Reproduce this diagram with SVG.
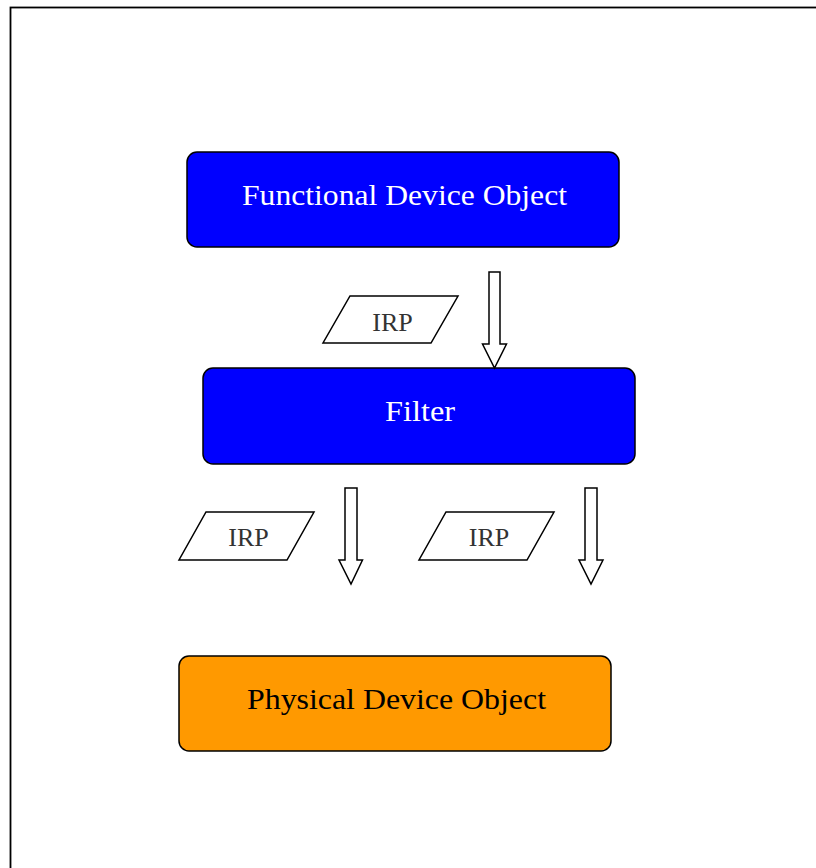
<svg xmlns="http://www.w3.org/2000/svg" width="816" height="868" viewBox="0 0 816 868">
<style>
.box{stroke:#000;stroke-width:1.5}
.lbl{font-family:"Liberation Serif","DejaVu Serif",serif;font-size:29px;text-anchor:middle}
.irp{font-family:"Liberation Serif","DejaVu Serif",serif;font-size:26px;fill:#333;text-anchor:middle}
.para{fill:#fff;stroke:#000;stroke-width:1.5}
.arr{fill:#fff;stroke:#000;stroke-width:1.5;stroke-linejoin:miter}
</style>
<rect width="816" height="868" fill="#fff"/>
<rect x="10.5" y="7.5" width="820" height="880" fill="none" stroke="#000" stroke-width="1.8"/>
<g id="fdo">
<rect class="box" x="187" y="152" width="432" height="95" rx="10" fill="#0000FF"/>
<text class="lbl" x="404.5" y="205" fill="#fff" textLength="325" lengthAdjust="spacingAndGlyphs">Functional Device Object</text>
</g>
<g id="filter">
<rect class="box" x="203" y="368" width="432" height="96" rx="10" fill="#0000FF"/>
<text class="lbl" x="420" y="421" fill="#fff" textLength="70" lengthAdjust="spacingAndGlyphs">Filter</text>
</g>
<g id="pdo">
<rect class="box" x="179" y="656" width="432" height="95" rx="10" fill="#FF9900"/>
<text class="lbl" x="396.5" y="709" fill="#000" textLength="299" lengthAdjust="spacingAndGlyphs">Physical Device Object</text>
</g>
<g id="irp1">
<polygon class="para" points="350,296 458,296 431,343 323,343"/>
<text class="irp" x="392.5" y="331">IRP</text>
</g>
<g id="irp2">
<polygon class="para" points="206,512 314,512 287,560 179,560"/>
<text class="irp" x="248.5" y="546">IRP</text>
</g>
<g id="irp3">
<polygon class="para" points="446,512 554,512 527,560 419,560"/>
<text class="irp" x="489" y="546">IRP</text>
</g>
<g id="connectors">
<polygon class="arr" points="489,272 500,272 500,344 506.5,344 494.5,368 482.5,344 489,344"/>
<polygon class="arr" points="345,488 357,488 357,560 362.5,560 351,584 339,560 345,560"/>
<polygon class="arr" points="585,488 597,488 597,560 603,560 591,584 579,560 585,560"/>
</g>
</svg>
